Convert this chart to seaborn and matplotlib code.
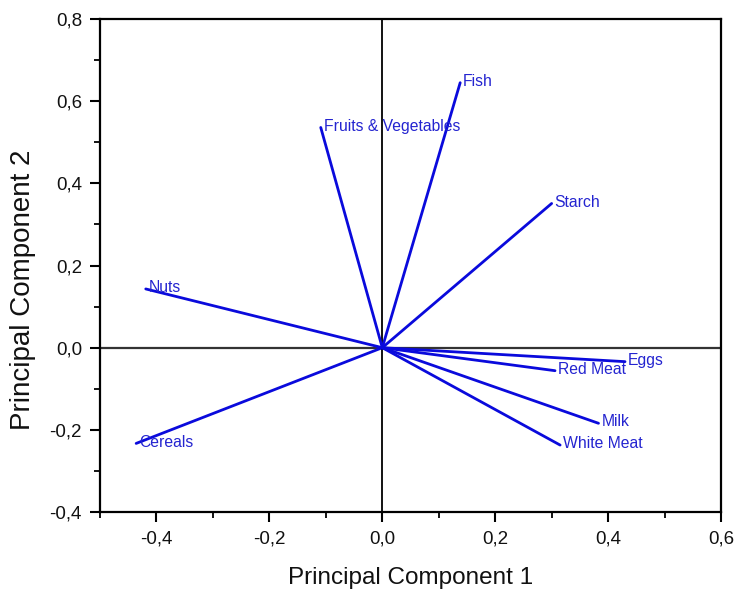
import matplotlib
matplotlib.use("Agg")
import matplotlib.pyplot as plt
from matplotlib.ticker import MultipleLocator, FuncFormatter
import seaborn as sns
import pandas as pd

# PCA loadings of food groups on the first two components
variables = ["Fish", "Fruits & Vegetables", "Starch", "Nuts", "Eggs",
             "Red Meat", "Milk", "White Meat", "Cereals"]
pc1 = [0.138, -0.109, 0.300, -0.419, 0.430, 0.306, 0.383, 0.315, -0.436]
pc2 = [0.645, 0.536, 0.351, 0.143, -0.034, -0.056, -0.184, -0.237, -0.233]

sns.set_theme(style="ticks")
plt.rcParams["font.family"] = ["Liberation Sans", "DejaVu Sans"]

# one segment per variable, from the origin to its loading
rows = []
for name, x, y in zip(variables, pc1, pc2):
    rows.append({"variable": name, "step": 0, "PC1": 0.0, "PC2": 0.0})
    rows.append({"variable": name, "step": 1, "PC1": x, "PC2": y})
segments = pd.DataFrame(rows)

fig = plt.figure(figsize=(7.42, 5.94), dpi=100)
ax = fig.add_axes([0.1348, 0.138, 0.8369, 0.830])

ax.axhline(0, color="#333333", lw=1.6, zorder=1)
ax.axvline(0, color="black", lw=1.3, zorder=1)

sns.lineplot(data=segments, x="PC1", y="PC2", units="variable",
             estimator=None, sort=False, color="#0a0adc", lw=2.0,
             ax=ax, legend=False, zorder=3)

for name, x, y in zip(variables, pc1, pc2):
    ax.annotate(name, (x, y), xytext=(2, 1), textcoords="offset points",
                ha="left", va="center", fontsize=11.3, color="#2424d0",
                zorder=4)

ax.set_xlim(-0.5, 0.6)
ax.set_ylim(-0.4, 0.8)
ax.xaxis.set_major_locator(MultipleLocator(0.2))
ax.xaxis.set_minor_locator(MultipleLocator(0.1))
ax.yaxis.set_major_locator(MultipleLocator(0.2))
ax.yaxis.set_minor_locator(MultipleLocator(0.1))

comma = FuncFormatter(lambda v, pos: f"{v:.1f}".replace(".", ",").replace("-0,0", "0,0"))
ax.xaxis.set_major_formatter(comma)
ax.yaxis.set_major_formatter(comma)

ax.tick_params(which="major", direction="out", length=7, width=1.5,
               labelsize=13.5, color="black", labelcolor="#111111", pad=6)
ax.tick_params(which="minor", direction="out", length=4, width=1.3, color="black")
ax.set_xticks([t for t in ax.get_xticks() if -0.45 < t < 0.65])

for side in ["left", "right", "top", "bottom"]:
    ax.spines[side].set_visible(True)
    ax.spines[side].set_linewidth(1.6)
    ax.spines[side].set_color("black")

ax.set_xlabel("Principal Component 1", fontsize=17.5, color="#111111", labelpad=14)
ax.set_ylabel("Principal Component 2", fontsize=20, color="#111111")
ax.yaxis.set_label_coords(-0.103, 0.45)

fig.savefig("out.png", dpi=100, facecolor="white")
